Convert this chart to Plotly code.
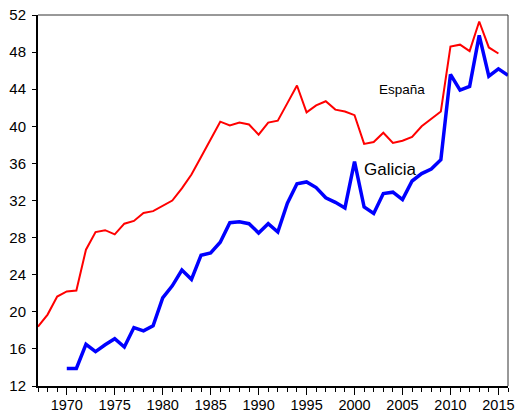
import plotly.graph_objects as go

years_es = list(range(1967, 2016))
espana = [18.4, 19.7, 21.65, 22.2, 22.3, 26.7, 28.6, 28.8, 28.35, 29.5,
          29.8, 30.65, 30.85, 31.4, 32.0, 33.3, 34.8, 36.7, 38.6, 40.5,
          40.1, 40.4, 40.2, 39.1, 40.4, 40.6, 42.5, 44.4, 41.5, 42.25,
          42.7, 41.8, 41.6, 41.2, 38.1, 38.3, 39.3, 38.2, 38.45, 38.85,
          40.0, 40.8, 41.6, 48.6, 48.8, 48.1, 51.3, 48.5, 47.85]

years_ga = list(range(1970, 2017))
galicia = [13.9, 13.9, 16.5, 15.7, 16.45, 17.1, 16.2, 18.3, 17.95, 18.5,
           21.5, 22.8, 24.5, 23.5, 26.1, 26.35, 27.5, 29.6, 29.7, 29.5,
           28.5, 29.5, 28.6, 31.7, 33.8, 34.0, 33.4, 32.3, 31.8, 31.2,
           36.2, 31.3, 30.6, 32.75, 32.9, 32.1, 34.1, 34.9, 35.4, 36.4,
           45.6, 43.9, 44.3, 49.8, 45.4, 46.2, 45.5]

label_es = "España"
label_ga = "Galicia"

# the page body adds an 8px offset, so the figure is sized to fit the window
W, H = 519, 404
L, R, T, B = 30, 19, 7, 26

fig = go.Figure()
fig.add_trace(go.Scatter(x=years_es, y=espana, mode="lines",
                         line=dict(color="#ff0000", width=2), name=label_es))
fig.add_trace(go.Scatter(x=years_ga, y=galicia, mode="lines",
                         line=dict(color="#0000ff", width=3.5), name=label_ga))

fig.add_annotation(x=2005.0, y=44.0, text=label_es, showarrow=False,
                   font=dict(family="Liberation Sans", size=13.5, color="black"))
fig.add_annotation(x=2003.75, y=35.3, text=label_ga, showarrow=False,
                   font=dict(family="Liberation Sans", size=17, color="black"))

# top and right frame lines
fig.add_shape(type="line", xref="paper", yref="paper", x0=0, x1=1, y0=1, y1=1,
              line=dict(color="#333333", width=1))
fig.add_shape(type="line", xref="paper", yref="paper", x0=1, x1=1, y0=0, y1=1,
              line=dict(color="#333333", width=1))

fig.update_layout(
    width=W, height=H, autosize=False,
    margin=dict(l=L, r=R, t=T, b=B, pad=0),
    paper_bgcolor="white", plot_bgcolor="white",
    showlegend=False,
    font=dict(family="Liberation Sans", size=14, color="black"),
)
fig.update_xaxes(range=[1967, 2016], tick0=1970, dtick=5, ticks="outside",
                 ticklen=7, tickcolor="black", tickwidth=1, automargin=False,
                 ticklabeloverflow="allow", ticklabelstandoff=-2,
                 showline=True, linecolor="black", linewidth=2, mirror=False,
                 showgrid=False, zeroline=False, tickfont=dict(size=14.5),
                 minor=dict(dtick=1, ticks="outside", ticklen=4,
                            tickcolor="black", tickwidth=1, showgrid=False))
fig.update_yaxes(range=[12, 52], tick0=12, dtick=4, ticks="outside",
                 ticklen=4, tickcolor="black", tickwidth=1, automargin=False,
                 ticklabeloverflow="allow", ticklabelstandoff=3,
                 showline=True, linecolor="black", linewidth=2, mirror=False,
                 showgrid=False, zeroline=False, tickfont=dict(size=15))

fig.write_html("out.html")
